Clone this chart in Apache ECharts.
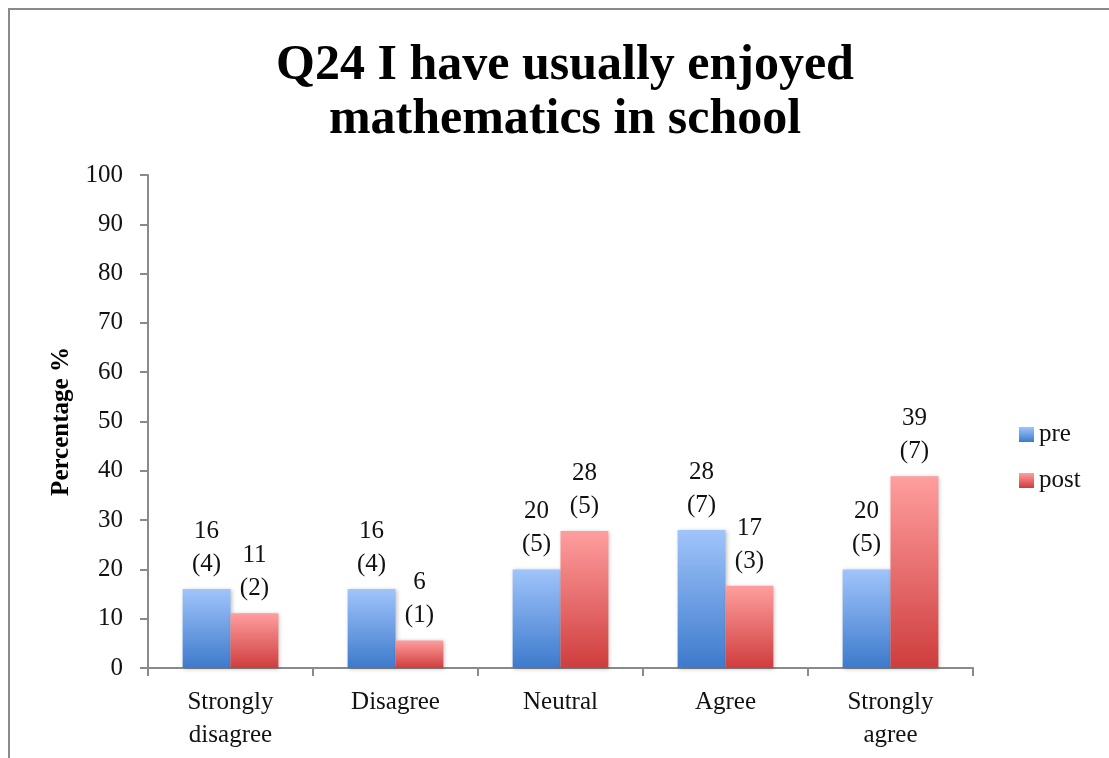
<!DOCTYPE html>
<html>
<head>
<meta charset="utf-8">
<script src="https://cdn.jsdelivr.net/npm/echarts@6/dist/echarts.min.js"></script>
<style>
  body { margin: 0; background: #fff; }
  #main { width: 1109px; height: 758px; position: relative; }
  .frame { position: absolute; left: 8px; top: 8px; width: 1110px; height: 760px; border-top: 2px solid #8a8a8a; border-left: 2px solid #8a8a8a; pointer-events: none; }
</style>
</head>
<body>
<div id="main"></div>
<div class="frame"></div>
<script>
const categories = ['Strongly\ndisagree', 'Disagree', 'Neutral', 'Agree', 'Strongly\nagree']
const preValues = [16, 16, 20, 28, 20]
const preCounts = [4, 4, 5, 7, 5]
const postValues = [11.1, 5.6, 27.8, 16.7, 38.9]
const postCounts = [2, 1, 5, 3, 7]
const yTicks = [0, 10, 20, 30, 40, 50, 60, 70, 80, 90, 100]

const font = 'Liberation Serif'
const axisGray = '#8a8a8a'

const grad = (top, bottom) => new echarts.graphic.LinearGradient(0, 0, 0, 1, [
  {offset: 0, color: top},
  {offset: 1, color: bottom},
])

const labelFor = (counts) => ({
  show: true,
  position: 'top',
  distance: 8,
  color: '#111',
  fontFamily: font,
  fontSize: 25,
  lineHeight: 33,
  formatter: (p) => Math.round(p.value) + '\n(' + counts[p.dataIndex] + ')',
})

const chart = echarts.init(document.getElementById('main'))
chart.setOption({
  animation: false,
  title: {
    text: 'Q24 I have usually enjoyed\nmathematics in school',
    left: 560,
    textAlign: 'center',
    top: 34,
    textStyle: {
      fontFamily: font,
      fontWeight: 'bold',
      fontSize: 50,
      lineHeight: 54,
      color: '#000',
    },
  },
  legend: {
    orient: 'vertical',
    left: 1014,
    top: 417,
    itemWidth: 15,
    itemHeight: 15,
    itemGap: 21,
    icon: 'rect',
    textStyle: {fontFamily: font, fontSize: 25, color: '#111'},
    data: ['pre', 'post'],
  },
  grid: {left: 148, right: 136, top: 175, bottom: 90},
  xAxis: {
    type: 'category',
    data: categories,
    axisLine: {lineStyle: {color: axisGray, width: 2}},
    axisTick: {show: true, length: 8, lineStyle: {color: axisGray, width: 2}},
    axisLabel: {
      color: '#111',
      fontFamily: font,
      fontSize: 25,
      lineHeight: 33,
      margin: 18,
      interval: 0,
    },
  },
  yAxis: {
    type: 'value',
    min: yTicks[0],
    max: yTicks[yTicks.length - 1],
    interval: 10,
    name: 'Percentage %',
    nameLocation: 'middle',
    nameGap: 74,
    nameTextStyle: {fontFamily: font, fontWeight: 'bold', fontSize: 25, color: '#000'},
    axisLine: {show: true, lineStyle: {color: axisGray, width: 2}},
    axisTick: {show: true, length: 8, lineStyle: {color: axisGray, width: 2}},
    axisLabel: {color: '#111', fontFamily: font, fontSize: 25, margin: 25},
    splitLine: {show: false},
  },
  series: [
    {
      name: 'pre',
      type: 'bar',
      data: preValues,
      barGap: '0%',
      barCategoryGap: '42%',
      itemStyle: {
        color: grad('#a0c4fb', '#3d7acc'),
        shadowColor: 'rgba(0,0,0,0.25)',
        shadowBlur: 4,
        shadowOffsetX: 1,
        shadowOffsetY: 1,
      },
      label: labelFor(preCounts),
    },
    {
      name: 'post',
      type: 'bar',
      data: postValues,
      itemStyle: {
        color: grad('#ff9e9e', '#cf3d3d'),
        shadowColor: 'rgba(0,0,0,0.25)',
        shadowBlur: 4,
        shadowOffsetX: 1,
        shadowOffsetY: 1,
      },
      label: labelFor(postCounts),
    },
  ],
})
</script>
</body>
</html>
